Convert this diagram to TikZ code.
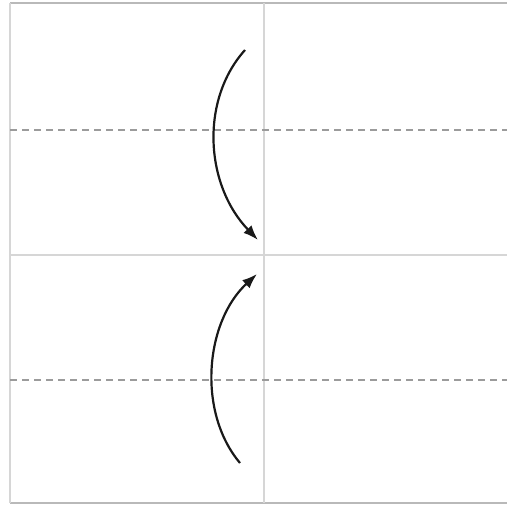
\documentclass[tikz,border=0pt]{standalone}
\usepackage{xcolor}
\usetikzlibrary{arrows.meta}
\definecolor{gridline}{RGB}{214,214,214}
\definecolor{frameline}{RGB}{185,185,185}
\definecolor{guide}{RGB}{155,155,155}

\begin{document}
\begin{tikzpicture}[
    x=1pt,y=-1pt,
    grid/.style={draw=gridline,line width=1.2pt},
    guideline/.style={draw=guide,line width=1.1pt,dash pattern=on 7pt off 5pt},
    swing/.style={-{Latex[length=15pt,width=11pt]},line width=2.2pt,draw=black!90}
]
\useasboundingbox (0,0) rectangle (507,506);
% frame and middle lines
\draw[draw=frameline,line width=1.5pt] (10,3) -- (507,3);
\draw[draw=frameline,line width=1.5pt] (10,503) -- (507,503);
\draw[grid] (10,3) -- (10,503);
\draw[grid] (264,3) -- (264,503);
\draw[grid] (10,255) -- (507,255);
% dashed guides
\draw[guideline] (10,130) -- (507,130);
\draw[guideline] (10,380) -- (507,380);
% arrows
\coordinate (topstart) at (245,50);
\coordinate (topend) at (258,240);
\coordinate (botstart) at (240,463);
\coordinate (botend) at (257,274);
\draw[swing] (topstart) .. controls (200,100) and (205,185) .. (topend);
\draw[swing] (botstart) .. controls (197,412) and (205,322) .. (botend);
\end{tikzpicture}
\end{document}
